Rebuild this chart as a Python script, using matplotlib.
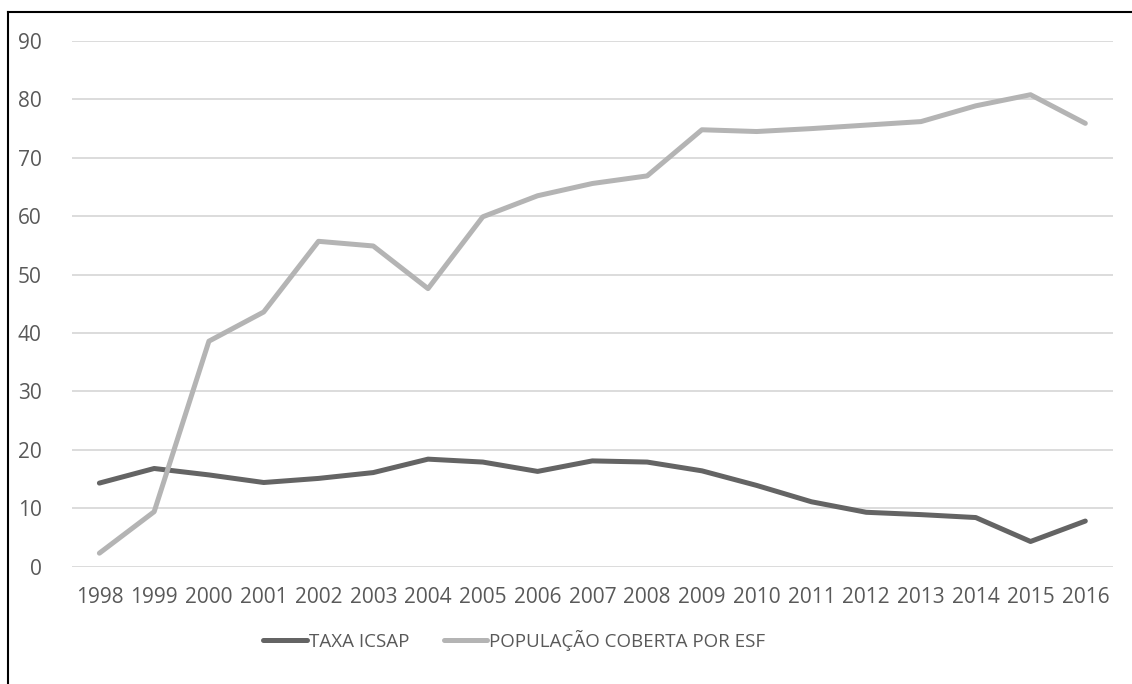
import matplotlib
matplotlib.use('Agg')
import matplotlib.pyplot as plt
from matplotlib.lines import Line2D

# values
anos = ['1998', '1999', '2000', '2001', '2002', '2003', '2004', '2005', '2006', '2007',
        '2008', '2009', '2010', '2011', '2012', '2013', '2014', '2015', '2016']
taxa_icsap = [14.3, 16.8, 15.7, 14.4, 15.1, 16.1, 18.4, 17.9, 16.3, 18.1,
              17.9, 16.4, 13.9, 11.1, 9.3, 8.9, 8.4, 4.3, 7.8]
pop_esf = [2.3, 9.4, 38.6, 43.6, 55.7, 54.9, 47.6, 59.9, 63.5, 65.6,
           66.9, 74.8, 74.5, 75.0, 75.6, 76.2, 78.9, 80.8, 75.9]
yticks = [0, 10, 20, 30, 40, 50, 60, 70, 80, 90]

W, H = 1132, 684
txt = '#595959'
plt.rcParams['font.family'] = ['Open Sans', 'DejaVu Sans']

fig = plt.figure(figsize=(W / 100, H / 100), dpi=100)
ax = fig.add_axes([72 / W, 1 - 566.6 / H, (1112.7 - 72) / W, (566.6 - 41) / H])

x = list(range(len(anos)))
ax.plot(x, taxa_icsap, color='#646464', lw=3.6, solid_capstyle='round',
        solid_joinstyle='round', label='TAXA ICSAP', zorder=3)
ax.plot(x, pop_esf, color='#b4b4b4', lw=3.6, solid_capstyle='round',
        solid_joinstyle='round', label='POPULAÇÃO COBERTA POR ESF', zorder=3)

ax.set_xlim(-0.5, len(anos) - 0.5)
ax.set_ylim(0, 90)
ax.set_yticks(yticks)
ax.set_xticks(x)
ax.set_xticklabels(anos)
ax.grid(axis='y', color='#d9d9d9', lw=1.3)
ax.set_axisbelow(True)
for s in ax.spines.values():
    s.set_visible(False)
ax.tick_params(length=0, labelsize=15, labelcolor=txt)
ax.tick_params(axis='y', pad=22)
ax.tick_params(axis='x', pad=15)

leg = fig.legend(loc='center', bbox_to_anchor=(514.5 / W, 1 - 640 / H), ncol=2,
                 frameon=False, fontsize=13.5, handlelength=2.3, handletextpad=0.15,
                 columnspacing=1.8)
for t in leg.get_texts():
    t.set_color(txt)

# outer frame (top and left edges visible in the reference)
fig.add_artist(Line2D([8 / W, 1], [1 - 11.5 / H, 1 - 11.5 / H], color='black', lw=1.5,
                      transform=fig.transFigure))
fig.add_artist(Line2D([8 / W, 8 / W], [0, 1 - 11.5 / H], color='black', lw=1.5,
                      transform=fig.transFigure))

fig.savefig('out.png', dpi=100)
